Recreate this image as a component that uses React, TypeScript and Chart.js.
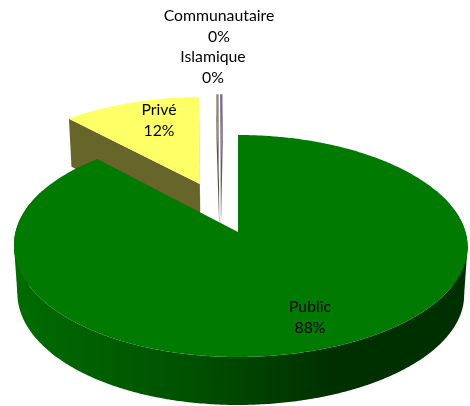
import React, { useEffect, useRef } from "react";
import { Chart, registerables } from "chart.js";

Chart.register(...registerables);

const categories = ["Public", "Privé", "Islamique", "Communautaire"];
const shares = [88, 11.6, 0.2, 0.2];

// styles
const topColors = ["#007a00", "#ffff66", "#8a8a70", "#8064a2"];
const wallColors = ["#005000", "#67652a", "#55553f", "#5f5a50"];
// explosion of each slice in the plane of the disc (unit = disc radius)
const explode = [[0, 0], [-0.18, -0.465], [-0.09, -0.5], [-0.082, -0.5]];
const labelAnchors = [[310, 307], [159, 110], [213, 57], [219, 16]];
const drawOrder = [3, 2, 1, 0];

// projection of the tilted disc
const APEX_X = 238, APEX_Y = 232, RX = 225, A = 80, K = -0.126, DEPTH = 48, SHRINK = 0.985, SKEW = 2.5;

function project(u: number, v: number) {
  const w = 1 + K * v;
  const shift = SKEW * u * u * Math.max(0, 1 + v);
  return [APEX_X + shift + (RX * u) / w, (APEX_Y + A * v) / w];
}
function lower(p: number[]) {
  return [APEX_X + 2 + (p[0] - APEX_X - 2) * SHRINK, p[1] + DEPTH];
}

function fillPolygon(ctx: CanvasRenderingContext2D, pts: number[][], style: any) {
  ctx.beginPath();
  pts.forEach((p, i) => (i ? ctx.lineTo(p[0], p[1]) : ctx.moveTo(p[0], p[1])));
  ctx.closePath();
  ctx.fillStyle = style;
  ctx.fill();
}

const tiltedPie = {
  id: "tiltedPie",
  beforeDatasetDraw(chart: any) {
    const ctx: CanvasRenderingContext2D = chart.ctx;
    const arcs = chart.getDatasetMeta(0).data;
    const side = ctx.createLinearGradient(13, 0, 467, 0);
    side.addColorStop(0, "#006c00");
    side.addColorStop(0.4, "#005000");
    side.addColorStop(0.7, "#003000");
    side.addColorStop(1, "#003000");

    ctx.save();
    drawOrder.forEach((i) => {
      const arc = arcs[i];
      const t0 = arc.startAngle + Math.PI / 2;
      const t1 = arc.endAngle + Math.PI / 2;
      const [du, dv] = explode[i];
      const n = Math.max(2, Math.ceil((t1 - t0) / 0.01));
      const rim: number[][] = [];
      const front: number[][] = [];
      for (let s = 0; s <= n; s++) {
        const t = t0 + ((t1 - t0) * s) / n;
        const p = project(du + Math.sin(t), dv - Math.cos(t));
        rim.push(p);
        if (Math.cos(t) < 0.4) front.push(p);
      }
      const apex = project(du, dv);
      const wall = i === 0 ? side : wallColors[i];
      // cut faces (only those of the exploded slices can show)
      if (i !== 0) {
        fillPolygon(ctx, [rim[0], apex, lower(apex), lower(rim[0])], wall);
        fillPolygon(ctx, [apex, rim[n], lower(rim[n]), lower(apex)], wall);
      }
      // outer wall, front part of the rim only
      if (front.length > 1) {
        fillPolygon(ctx, [...front, ...front.map(lower).reverse()], wall);
        // straight silhouette between the upper and lower rim at both extremes
        const xs = front.map((p) => p[0]);
        const lo = front[xs.indexOf(Math.min(...xs))];
        const hi = front[xs.indexOf(Math.max(...xs))];
        [[lo, 12], [hi, -12]].forEach(([p, d]: any) => {
          const q = lower(p);
          fillPolygon(ctx, [p, q, [q[0] + d, q[1]], [p[0] + d, p[1]]], wall);
        });
      }
      // top face
      fillPolygon(ctx, [apex, ...rim], topColors[i]);
    });
    ctx.restore();
    return false;
  },
  afterDatasetsDraw(chart: any) {
    const ctx: CanvasRenderingContext2D = chart.ctx;
    ctx.save();
    ctx.font = "15.8px Lato";
    ctx.fillStyle = "#000000";
    ctx.textAlign = "center";
    ctx.textBaseline = "middle";
    categories.forEach((name, i) => {
      const [x, y] = labelAnchors[i];
      ctx.fillText(name, x, y);
      ctx.fillText(`${Math.round(shares[i])}%`, x, y + 21);
    });
    ctx.restore();
  },
};

export default function App() {
  const ref = useRef<HTMLCanvasElement>(null);
  useEffect(() => {
    document.body.style.margin = "0";
    document.body.style.background = "#ffffff";
    const chart = new Chart(ref.current!, {
      type: "pie",
      data: {
        labels: categories,
        datasets: [{ data: shares, backgroundColor: topColors, borderWidth: 0 }],
      },
      options: {
        responsive: false,
        animation: false,
        layout: { padding: 0 },
        plugins: { legend: { display: false }, tooltip: { enabled: false } },
      },
      plugins: [tiltedPie],
    } as any);
    return () => chart.destroy();
  }, []);
  return <canvas ref={ref} width={470} height={406} style={{ display: "block" }} />;
}
